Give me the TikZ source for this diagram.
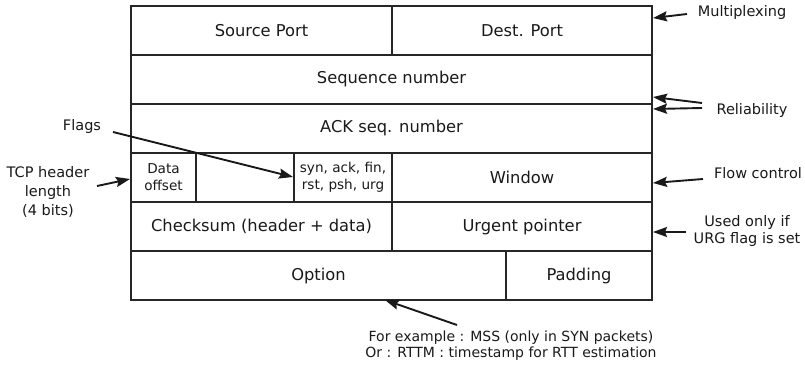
\documentclass[tikz,border=0pt]{standalone}
\usepackage{fontspec}
\setmainfont{DejaVu Sans}
\usetikzlibrary{arrows.meta}

\begin{document}
\begin{tikzpicture}[x=1pt, y=-1pt,
  cell/.style={draw=black!85, line width=1.1pt, inner sep=0pt, minimum height=49pt,
               font=\fontsize{16.3}{19}\selectfont, align=center, text=black!90},
  small/.style={font=\fontsize{13.6}{16}\selectfont},
  note/.style={font=\fontsize{14.5}{18}\selectfont, align=center, inner sep=2pt, text=black!90},
  arr/.style={-{Stealth[length=14pt,width=10pt,inset=2pt]}, line width=1.9pt, black!90}
]
\useasboundingbox (0,0) rectangle (805,364);

% TCP header fields, one row per 32-bit word
\node[cell, minimum width=261pt] (src) at (261.5,30.5) {Source Port};
\node[cell, minimum width=260pt] (dst) at (522,30.5) {Dest. Port};
\node[cell, minimum width=521pt] (seq) at (391.5,79.5) {Sequence number};
\node[cell, minimum width=521pt] (ack) at (391.5,128.5) {ACK seq. number};
\node[cell, minimum width=65pt, small] (doff) at (163.5,177.5) {Data\\[1pt]offset};
\node[cell, minimum width=98pt] (rsv) at (245,177.5) {};
\node[cell, minimum width=98pt, small] (flg) at (343,177.5) {syn, ack, fin,\\[1pt]rst, psh, urg};
\node[cell, minimum width=260pt] (win) at (522,177.5) {Window};
\node[cell, minimum width=261pt] (chk) at (261.5,226.5) {Checksum (header + data)};
\node[cell, minimum width=260pt] (urg) at (522,226.5) {Urgent pointer};
\node[cell, minimum width=375pt] (opt) at (318.5,275.5) {Option};
\node[cell, minimum width=146pt] (pad) at (579,275.5) {Padding};

% annotations
\node[note] (mux) at (742,12) {Multiplexing};
\node[note] (rel) at (752,110) {Reliability};
\node[note] (flow) at (758,173) {Flow control};
\node[note, font=\fontsize{14.5}{17}\selectfont] (used) at (747,231) {Used only if\\URG flag is set};
\node[note] (flags) at (82,126) {Flags};
\node[note, font=\fontsize{14.5}{19}\selectfont] (hlen) at (48,192) {TCP header\\length\\(4 bits)};
\node[note, font=\fontsize{14}{16}\selectfont] (ex) at (511,346) {For example : MSS (only in SYN packets)\\Or : RTTM : timestamp for RTT estimation};

% arrow ends
\coordinate (muxtail) at (687,14);   \coordinate (muxtip) at (653,18);
\coordinate (reltailA) at (702,103); \coordinate (reltipA) at (653,97);
\coordinate (reltailB) at (702,108); \coordinate (reltipB) at (653,109);
\coordinate (flowtail) at (703,179); \coordinate (flowtip) at (653,183);
\coordinate (usedtail) at (686,232); \coordinate (usedtip) at (653,232);
\coordinate (flagtail) at (113,132); \coordinate (flagtip) at (293,177);
\coordinate (hlentail) at (97,186);  \coordinate (hlentip) at (130,179);
\coordinate (extail) at (457,325);   \coordinate (extip) at (385,300);

\draw[arr] (muxtail) -- (muxtip);
\draw[arr] (reltailA) -- (reltipA);
\draw[arr] (reltailB) -- (reltipB);
\draw[arr] (flowtail) -- (flowtip);
\draw[arr] (usedtail) -- (usedtip);
\draw[arr] (flagtail) -- (flagtip);
\draw[arr] (hlentail) -- (hlentip);
\draw[arr] (extail) -- (extip);
\end{tikzpicture}
\end{document}
